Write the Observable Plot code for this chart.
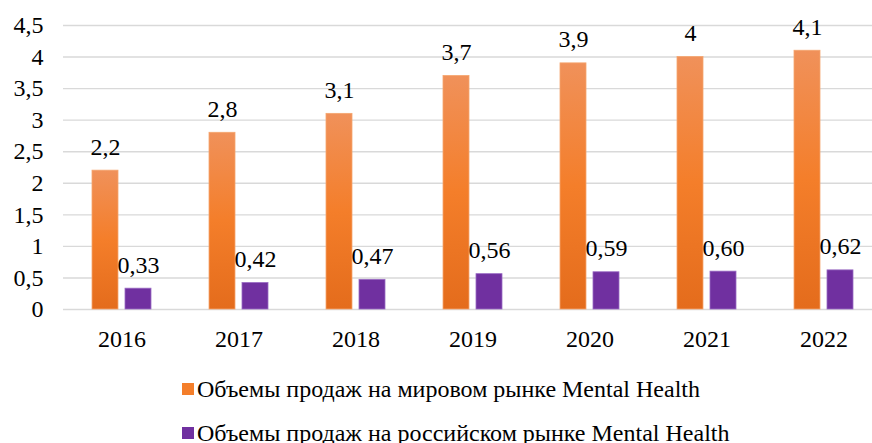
<!DOCTYPE html>
<html>
<head>
<meta charset="utf-8">
<script src="https://cdn.jsdelivr.net/npm/d3@7"></script>
<script src="https://cdn.jsdelivr.net/npm/@observablehq/plot@0.6"></script>
<style>
  body { margin: 0; background: #fff; font-family: 'Liberation Serif', serif; color: #000; }
  #legend { margin-top: 17px; padding-left: 182px; font-size: 24px; font-family: 'Liberation Serif', serif; }
  .row { height: 44px; display: flex; align-items: center; white-space: nowrap; }
  .sw { width: 12px; height: 12px; margin-right: 3px; display: inline-block; flex: none; }
  svg text { font-family: 'Liberation Serif', serif !important; }
</style>
</head>
<body>
<div id="chart"></div>
<div id="legend"></div>
<script>
const years = ["2016", "2017", "2018", "2019", "2020", "2021", "2022"];
const seriesNames = [
  "Объемы продаж на мировом рынке Mental Health",
  "Объемы продаж на российском рынке Mental Health"
];
const worldValues = [2.2, 2.8, 3.1, 3.7, 3.9, 4.0, 4.1];
const russiaValues = [0.33, 0.42, 0.47, 0.56, 0.59, 0.60, 0.62];
const yTicks = [0, 0.5, 1, 1.5, 2, 2.5, 3, 3.5, 4, 4.5];
const legendColors = ["#F47E2A", "#7030A0"];

const rows = [];
years.forEach((y, i) => {
  rows.push({year: y, series: seriesNames[0], value: worldValues[i], label: String(worldValues[i]).replace(".", ",")});
  rows.push({year: y, series: seriesNames[1], value: russiaValues[i], label: russiaValues[i].toFixed(2).replace(".", ",")});
});

const comma = d => String(d).replace(".", ",");

const chart = Plot.plot({
  width: 872,
  height: 350,
  marginLeft: 62,
  marginRight: -11,
  marginTop: 25,
  marginBottom: 41,
  style: {fontFamily: "'Liberation Serif', serif", fontSize: "24px", color: "#000", background: "#fff", overflow: "visible"},
  facet: {data: rows, x: "year"},
  fx: {domain: years, paddingInner: 0, paddingOuter: 0, label: null, tickSize: 0, tickPadding: 20},
  x: {domain: seriesNames, axis: null, paddingInner: 0.206, paddingOuter: 0.844},
  y: {domain: [0, 4.5], ticks: yTicks, tickFormat: comma, tickSize: 0, tickPadding: 20, label: null},
  marks: [
    Plot.ruleY(yTicks, {stroke: "#d9d9d9", strokeWidth: 1.4}),
    Plot.barY(rows, {filter: d => d.series === seriesNames[0], x: "series", y: "value", fill: "url(#gradOrange)", stroke: "#F5A66F", strokeWidth: 0.8}),
    Plot.barY(rows, {filter: d => d.series === seriesNames[1], x: "series", y: "value", fill: "#7030A0", stroke: "#9A6BC4", strokeWidth: 0.8}),
    Plot.text(rows, {x: "series", y: "value", text: "label", lineAnchor: "bottom", dy: -16, fontSize: 24, fill: "#000"})
  ]
});

const defs = d3.select(chart).insert("defs", ":first-child");
const g = defs.append("linearGradient").attr("id", "gradOrange").attr("x1", 0).attr("y1", 0).attr("x2", 0).attr("y2", 1);
g.append("stop").attr("offset", "0%").attr("stop-color", "#F0915A");
g.append("stop").attr("offset", "50%").attr("stop-color", "#F47E2A");
g.append("stop").attr("offset", "100%").attr("stop-color", "#E46C1C");

document.getElementById("chart").appendChild(chart);

const legend = d3.select("#legend");
seriesNames.forEach((name, i) => {
  const r = legend.append("div").attr("class", "row");
  r.append("span").attr("class", "sw").style("background", legendColors[i]);
  r.append("span").text(name);
});
</script>
</body>
</html>
